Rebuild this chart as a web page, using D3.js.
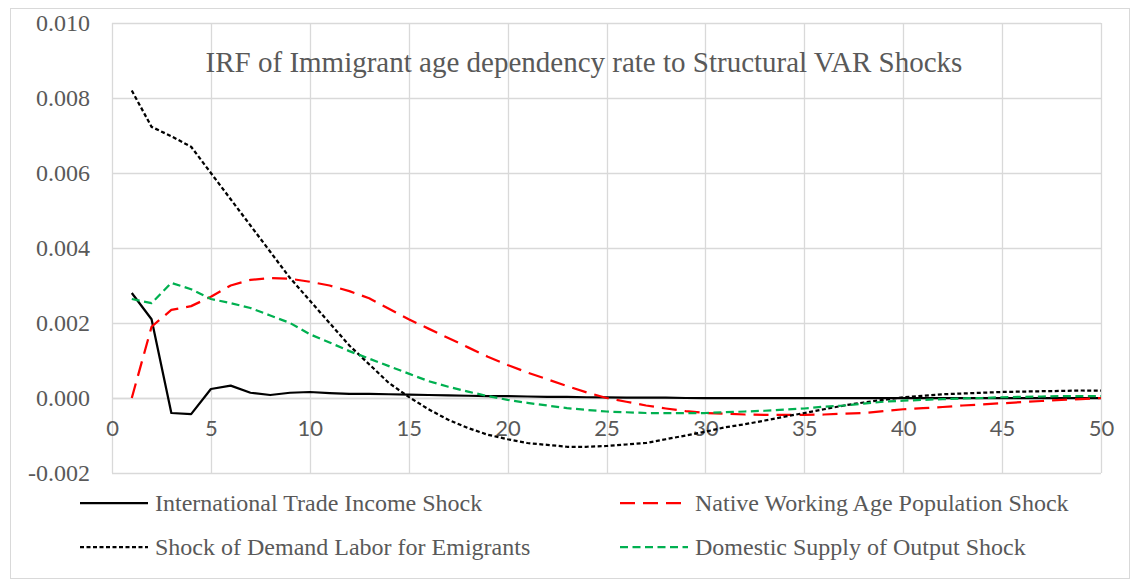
<!DOCTYPE html>
<html>
<head>
<meta charset="utf-8">
<script src="https://cdn.jsdelivr.net/npm/d3@7"></script>
<style>
  body { margin: 0; background: #fff; }
  svg { display: block; }
</style>
</head>
<body>
<svg id="chart" width="1131" height="581"></svg>
<script>
// ---- data ----
const periods = d3.range(1, 51);
const xTicks = [0, 5, 10, 15, 20, 25, 30, 35, 40, 45, 50];
const yTicks = [-0.002, 0, 0.002, 0.004, 0.006, 0.008, 0.010];

const tradeIncome = [0.0028, 0.0021, -0.0004, -0.00043, 0.00024, 0.00033, 0.00014, 0.00008, 0.00014, 0.00016,
  0.00013, 0.00011, 0.00011, 0.0001, 0.00009, 0.00008, 0.00007, 0.00006, 0.00005, 0.00005,
  0.00004, 0.00003, 0.00003, 0.00002, 0.00002, 0.00001, 0.00001, 0.00001, 0, 0,
  0, 0, 0, 0, 0, 0, 0, 0, 0, 0,
  0, 0, 0, 0, 0, 0, 0, 0, 0, 0];

const nativeWorking = [0.0, 0.0019, 0.00235, 0.00245, 0.0027, 0.003, 0.00315, 0.0032, 0.00318, 0.0031,
  0.003, 0.00285, 0.00266, 0.00238, 0.0021, 0.00185, 0.0016, 0.00135, 0.0011, 0.00088,
  0.00068, 0.0005, 0.00032, 0.00015, 0.0, -0.0001, -0.0002, -0.00028, -0.00035, -0.0004,
  -0.00042, -0.00044, -0.00045, -0.00045, -0.00045, -0.00044, -0.00042, -0.0004, -0.00035, -0.0003,
  -0.00027, -0.00024, -0.0002, -0.00017, -0.00014, -0.00011, -0.00008, -0.00005, -0.00003, 0.0];

const demandLabor = [0.0082, 0.00723, 0.00698, 0.0067, 0.006, 0.0053, 0.0046, 0.0039, 0.0032, 0.0026,
  0.002, 0.0014, 0.0009, 0.0004, 0.00003, -0.0003, -0.00058, -0.0008, -0.00098, -0.0011,
  -0.0012, -0.00125, -0.0013, -0.0013, -0.00128, -0.00124, -0.0012, -0.0011, -0.001, -0.0009,
  -0.00078, -0.0007, -0.0006, -0.0005, -0.0004, -0.0003, -0.0002, -0.00012, -0.00005, 0.00002,
  0.00006, 0.0001, 0.00012, 0.00014, 0.00016, 0.00017, 0.00018, 0.00019, 0.0002, 0.0002];

const domesticSupply = [0.00264, 0.00253, 0.00307, 0.0029, 0.00264, 0.00253, 0.0024, 0.0022, 0.002, 0.0017,
  0.00148, 0.00125, 0.00105, 0.00085, 0.00065, 0.00045, 0.0003, 0.00017, 0.00005, -0.00005,
  -0.00013, -0.0002, -0.00027, -0.00032, -0.00036, -0.00038, -0.0004, -0.0004, -0.0004, -0.0004,
  -0.00038, -0.00036, -0.00034, -0.00031, -0.00028, -0.00023, -0.0002, -0.00015, -0.0001, -0.00007,
  -0.00005, -0.00003, -0.00001, 0, 0.00002, 0.00003, 0.00004, 0.00005, 0.00005, 0.00005];

const seriesNames = ["International Trade Income Shock", "Native Working Age Population Shock",
  "Shock of Demand Labor for Emigrants", "Domestic Supply of Output Shock"];

// ---- styles ----
const series = [
  { name: seriesNames[0], values: tradeIncome,    color: "#000000", dash: null,  width: 2.25 },
  { name: seriesNames[1], values: nativeWorking,  color: "#ff0000", dash: "15,8", width: 2.25 },
  { name: seriesNames[2], values: demandLabor,    color: "#000000", dash: "4,2.5", width: 2.25 },
  { name: seriesNames[3], values: domesticSupply, color: "#00b050", dash: "8,4.5", width: 2.25 }
];

const serif = "'Liberation Serif', 'Times New Roman', serif";
const svg = d3.select("#chart");

// outer chart border
svg.append("rect")
  .attr("x", 10.5).attr("y", 8.5)
  .attr("width", 1119).attr("height", 570)
  .attr("fill", "#fff").attr("stroke", "#d9d9d9").attr("stroke-width", 1);

const x = d3.scaleLinear().domain([0, 50]).range([112, 1101]);
const y = d3.scaleLinear().domain([-0.002, 0.010]).range([473, 23]);

// gridlines
const g = svg.append("g");
g.selectAll(".hgrid").data(yTicks).enter().append("line")
  .attr("x1", x(0)).attr("x2", x(50))
  .attr("y1", d => Math.round(y(d)) + 0.5).attr("y2", d => Math.round(y(d)) + 0.5)
  .attr("stroke", "#d9d9d9").attr("stroke-width", 1.3);
g.selectAll(".vgrid").data(xTicks).enter().append("line")
  .attr("y1", y(0.010)).attr("y2", y(-0.002))
  .attr("x1", d => Math.round(x(d)) + 0.5).attr("x2", d => Math.round(x(d)) + 0.5)
  .attr("stroke", "#d9d9d9").attr("stroke-width", 1.3);

// y axis labels (serif, like the rest of the text)
const yAxis = d3.axisLeft(y).tickValues(yTicks).tickSize(0).tickPadding(22)
  .tickFormat(d => d3.format(".3f")(d).replace("−", "-"));
svg.append("g").attr("transform", `translate(${x(0)},0)`).call(yAxis)
  .attr("font-family", serif).attr("font-size", 24)
  .call(a => a.select(".domain").remove())
  .selectAll("text")
  .style("font-family", serif)
  .attr("fill", "#595959");

// x axis labels at zero line
const xAxis = d3.axisBottom(x).tickValues(xTicks).tickSize(0).tickPadding(22);
svg.append("g").attr("transform", `translate(0,${y(0)})`).call(xAxis)
  .attr("font-family", "Lato, 'Open Sans', sans-serif").attr("font-size", 22)
  .call(a => a.select(".domain").attr("stroke", "#d9d9d9").attr("stroke-width", 1.3))
  .selectAll("text")
  .attr("fill", "#595959");

// title
svg.append("text")
  .attr("x", 584).attr("y", 72)
  .attr("text-anchor", "middle")
  .style("font-family", serif)
  .attr("font-size", 29).attr("fill", "#595959")
  .text("IRF of Immigrant age dependency rate to Structural VAR Shocks");

// lines
const line = d3.line()
  .x((d, i) => x(periods[i]))
  .y(d => y(d));

svg.selectAll(".series").data(series).enter().append("path")
  .attr("d", d => line(d.values))
  .attr("fill", "none")
  .attr("stroke", d => d.color)
  .attr("stroke-width", d => d.width)
  .attr("stroke-dasharray", d => d.dash)
  .attr("stroke-linejoin", "round");

// legend
const legendPos = [[80, 503], [620, 503], [80, 547], [620, 547]];
const leg = svg.selectAll(".leg").data(series).enter().append("g")
  .attr("transform", (d, i) => `translate(${legendPos[i][0]},${legendPos[i][1]})`);
leg.append("line")
  .attr("x1", 0).attr("x2", 68).attr("y1", 0).attr("y2", 0)
  .attr("stroke", d => d.color)
  .attr("stroke-width", d => d.width)
  .attr("stroke-dasharray", d => d.dash);
leg.append("text")
  .attr("x", 75).attr("y", 8)
  .style("font-family", serif)
  .attr("font-size", 24).attr("fill", "#595959")
  .text(d => d.name);
</script>
</body>
</html>
